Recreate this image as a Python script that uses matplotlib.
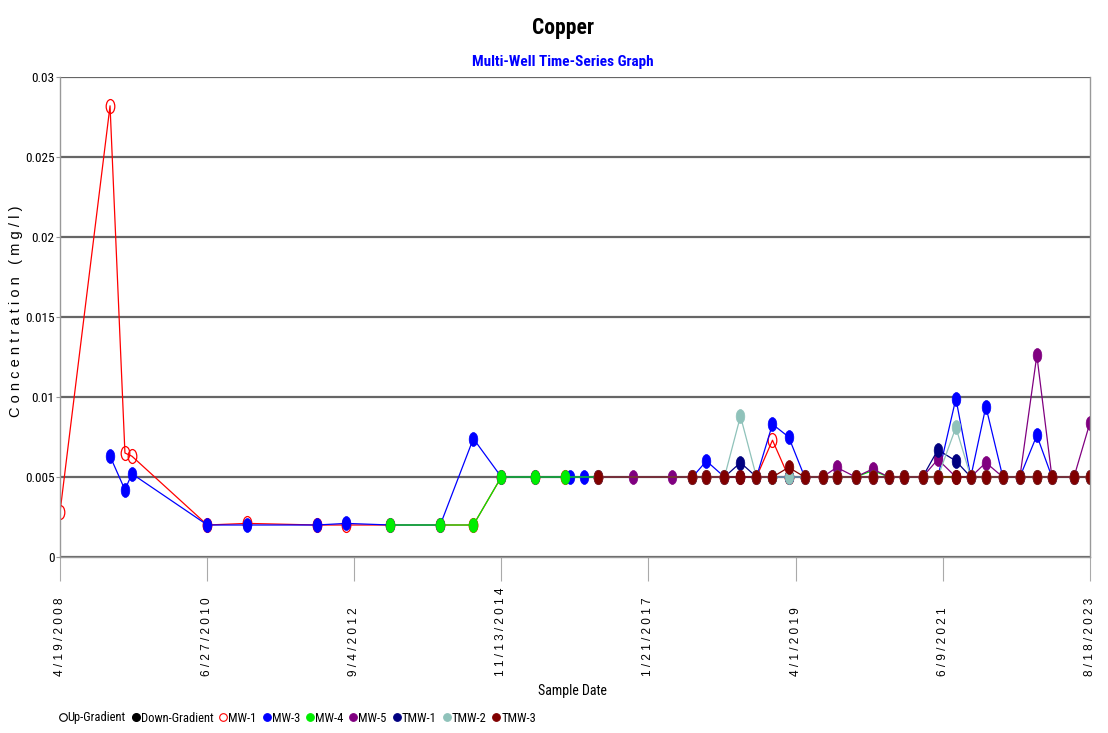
import matplotlib
matplotlib.use("Agg")
import matplotlib.pyplot as plt
import numpy as np
from matplotlib.path import Path
from matplotlib.transforms import Affine2D
from matplotlib.lines import Line2D
from matplotlib import font_manager

# pick the narrowest sans face available
names = {f.name for f in font_manager.fontManager.ttflist}
narrow_pick = [n for n in ['Liberation Sans Narrow', 'DejaVu Sans Condensed', 'Roboto Condensed',
                           'Open Sans Condensed', 'Noto Sans Condensed'] if n in names]
narrow = narrow_pick + ['Liberation Sans', 'DejaVu Sans']
plain = ['Liberation Sans', 'DejaVu Sans']

# sampling rounds shared by most wells from 2016 on
common_dates = ['2016-04-23', '2017-09-17', '2017-12-02', '2018-03-10', '2018-06-05',
                '2018-08-31', '2018-11-26', '2019-02-22', '2019-05-20', '2019-08-26',
                '2019-11-10', '2020-02-21', '2020-05-24', '2020-08-19', '2020-11-08',
                '2021-02-19', '2021-05-13', '2021-08-19', '2021-11-08', '2022-01-29',
                '2022-05-01', '2022-08-02', '2022-11-02', '2023-01-23', '2023-05-23',
                '2023-08-18']

mw1_dates = ['2008-04-19', '2009-01-16', '2009-04-07', '2009-05-15', '2010-06-29',
             '2011-01-31', '2012-02-15', '2012-07-23', '2013-03-19', '2013-12-16',
             '2014-06-14', '2014-11-13', '2015-05-17', '2015-10-27'] + common_dates
mw1_vals = [0.0028, 0.0282, 0.0065, 0.0063, 0.002, 0.0021, 0.002, 0.002, 0.002, 0.002,
            0.002, 0.005, 0.005, 0.005,
            0.005, 0.005, 0.005, 0.005, 0.005, 0.005, 0.0073, 0.005, 0.005, 0.005,
            0.005, 0.005, 0.005, 0.005, 0.005, 0.005, 0.005, 0.005, 0.005, 0.005,
            0.005, 0.005, 0.005, 0.005, 0.005, 0.005]

mw3_dates = ['2009-01-16', '2009-04-07', '2009-05-15', '2010-06-29', '2011-01-31',
             '2012-02-15', '2012-07-23', '2013-03-19', '2013-12-16', '2014-06-14',
             '2014-11-13', '2015-05-17', '2015-11-23', '2016-02-07'] + common_dates
mw3_vals = [0.0063, 0.0042, 0.0052, 0.002, 0.002, 0.002, 0.0021, 0.002, 0.002, 0.0074,
            0.005, 0.005, 0.005, 0.005,
            0.005, 0.005, 0.006, 0.005, 0.005, 0.005, 0.0083, 0.0075, 0.005, 0.005,
            0.005, 0.005, 0.005, 0.005, 0.005, 0.005, 0.005, 0.0099, 0.005, 0.0094,
            0.005, 0.005, 0.0076, 0.005, 0.005, 0.005]

mw4_dates = ['2013-03-19', '2013-12-16', '2014-06-14', '2014-11-13', '2015-05-17',
             '2015-10-27'] + common_dates
mw4_vals = [0.002, 0.002, 0.002, 0.005, 0.005, 0.005,
            0.005, 0.005, 0.005, 0.005, 0.005, 0.005, 0.005, 0.005, 0.005, 0.005,
            0.005, 0.005, 0.0054, 0.005, 0.005, 0.005, 0.005, 0.005, 0.005, 0.005,
            0.005, 0.005, 0.005, 0.005, 0.005, 0.005]

mw5_dates = ['2016-04-23', '2016-10-31', '2017-05-31'] + common_dates[1:]
mw5_vals = [0.005, 0.005, 0.005,
            0.005, 0.005, 0.005, 0.005, 0.005, 0.005, 0.005, 0.005, 0.005, 0.0056,
            0.005, 0.0055, 0.005, 0.005, 0.005, 0.0061, 0.005, 0.005, 0.0059, 0.005,
            0.005, 0.0126, 0.005, 0.005, 0.0084]

tmw1_vals = [0.005, 0.005, 0.005, 0.005, 0.0059, 0.005, 0.005, 0.005, 0.005, 0.005,
             0.005, 0.005, 0.005, 0.005, 0.005, 0.005, 0.0067, 0.006, 0.005, 0.005,
             0.005, 0.005, 0.005, 0.005, 0.005, 0.005]
tmw2_vals = [0.005, 0.005, 0.005, 0.005, 0.0088, 0.005, 0.005, 0.005, 0.005, 0.005,
             0.005, 0.005, 0.005, 0.005, 0.005, 0.005, 0.005, 0.0081, 0.005, 0.005,
             0.005, 0.005, 0.005, 0.005, 0.005, 0.005]
tmw3_vals = [0.005, 0.005, 0.005, 0.005, 0.005, 0.005, 0.005, 0.0056, 0.005, 0.005,
             0.005, 0.005, 0.005, 0.005, 0.005, 0.005, 0.005, 0.005, 0.005, 0.005,
             0.005, 0.005, 0.005, 0.005, 0.005, 0.005]

wells = [
    ('MW-1', mw1_dates, mw1_vals, '#FF0000', False),
    ('MW-3', mw3_dates, mw3_vals, '#0000FF', True),
    ('MW-4', mw4_dates, mw4_vals, '#00EE00', True),
    ('MW-5', mw5_dates, mw5_vals, '#800080', True),
    ('TMW-1', common_dates, tmw1_vals, '#000080', True),
    ('TMW-2', common_dates, tmw2_vals, '#8FC2BA', True),
    ('TMW-3', common_dates, tmw3_vals, '#800000', True),
]

tick_dates = ['2008-04-19', '2010-06-27', '2012-09-04', '2014-11-13',
              '2017-01-21', '2019-04-01', '2021-06-09', '2023-08-18']
tick_labels = ['4/19/2008', '6/27/2010', '9/4/2012', '11/13/2014',
               '1/21/2017', '4/1/2019', '6/9/2021', '8/18/2023']

# tall ellipse marker
ellipse = Path(Affine2D().scale(0.62, 1.0).transform(Path.unit_circle().vertices),
               Path.unit_circle().codes)

fig = plt.figure(figsize=(11.08, 7.33), dpi=100)
ax = fig.add_axes([60 / 1108, 1 - 557 / 733, 1030 / 1108, 480 / 733])

for name, d, v, col, filled in wells:
    ax.plot(np.array(d, dtype='datetime64[D]'), v, color=col, lw=0.9,
            marker=ellipse, markersize=10,
            markerfacecolor=col if filled else 'none',
            markeredgecolor=col, markeredgewidth=0.9 if not filled else 0.5)

ax.set_xlim(np.datetime64('2008-04-19'), np.datetime64('2023-08-18'))
ax.set_ylim(0, 0.03)
ax.set_yticks([0, 0.005, 0.01, 0.015, 0.02, 0.025, 0.03])
ax.set_yticklabels(['0', '0.005', '0.01', '0.015', '0.02', '0.025', '0.03'],
                   family=narrow, fontsize=9.5)
ax.yaxis.grid(True, color='#666666', lw=1.6)
ax.set_axisbelow(True)
ax.tick_params(axis='y', length=3, color='#999999', pad=1)

ax.set_xticks(np.array(tick_dates, dtype='datetime64[D]'))
ax.set_xticklabels([])
ax.tick_params(axis='x', length=17, color='#aaaaaa', width=0.8)
for td, tl in zip(tick_dates, tick_labels):
    ax.text(np.datetime64(td), -0.248, ' '.join(tl), transform=ax.get_xaxis_transform(),
            rotation=90, ha='center', va='bottom', fontsize=8.5, family=plain)

for s in ['left', 'right', 'bottom']:
    ax.spines[s].set_color('#999999')
    ax.spines[s].set_linewidth(1.0)
ax.spines['top'].set_visible(False)

fig.text(16 / 1108, 1 - 311 / 733, ' '.join('Concentration') + '   ' + ' '.join('(mg/l)'),
         rotation=90, ha='center', va='center', fontsize=10.5, family=plain)
fig.text(572 / 1108, 1 - 691 / 733, 'Sample Date', ha='center', va='center',
         fontsize=10, family=narrow)
fig.text(563 / 1108, 1 - 28 / 733, 'Copper', ha='center', va='center',
         fontsize=15.5, fontweight='bold', family=narrow)
fig.text(563 / 1108, 1 - 62 / 733, 'Multi-Well Time-Series Graph', ha='center',
         va='center', fontsize=11, fontweight='bold', color='#0000FF', family=narrow)

handles = [Line2D([], [], ls='', marker='o', ms=5.5, mfc='none', mec='black', mew=0.8),
           Line2D([], [], ls='', marker='o', ms=5.5, mfc='black', mec='black')]
labels = ['Up-Gradient', 'Down-Gradient']
for name, d, v, col, filled in wells:
    handles.append(Line2D([], [], ls='', marker='o', ms=5.5,
                          mfc=col if filled else 'none', mec=col, mew=0.8))
    labels.append(name)
fig.legend(handles, labels, loc='center left', bbox_to_anchor=(50 / 1108, 1 - 718 / 733),
           ncol=9, frameon=False, handletextpad=-0.1, columnspacing=0.3,
           handlelength=1.0, borderpad=0, prop={'family': narrow, 'size': 9})

fig.savefig('out.png', dpi=100)
